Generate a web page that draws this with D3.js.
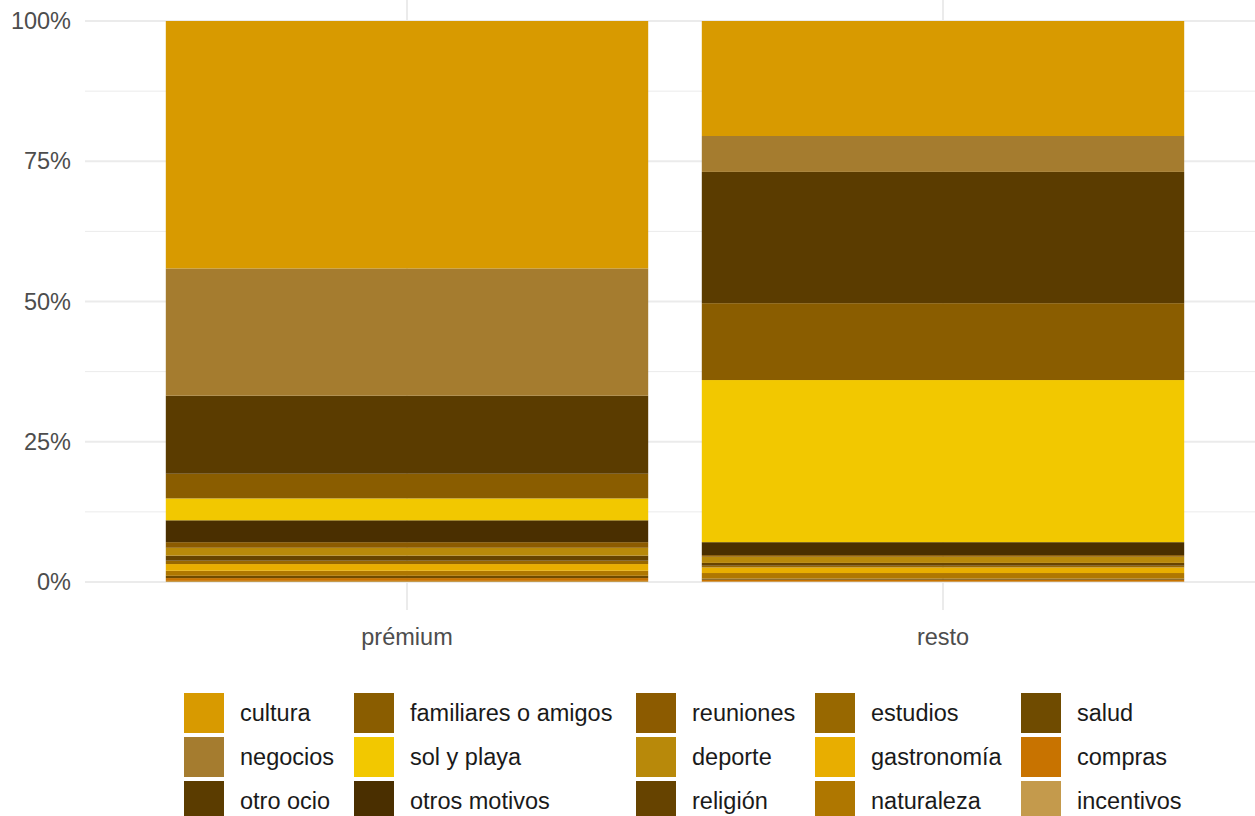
<!DOCTYPE html>
<html>
<head>
<meta charset="utf-8">
<script src="https://cdn.jsdelivr.net/npm/d3@7"></script>
<style>
  html, body { margin: 0; padding: 0; background: #ffffff; }
  svg { display: block; font-family: "Liberation Sans", Arial, sans-serif; }
</style>
</head>
<body>
<svg id="chart" width="1255" height="816"></svg>
<script>
// Travel motives, share of trips per tourist segment (stacked to 100%)
const segmentos = ["prémium", "resto"];
const motivos = ["cultura", "negocios", "otro ocio", "familiares o amigos", "sol y playa",
  "otros motivos", "reuniones", "deporte", "religión", "estudios", "gastronomía",
  "naturaleza", "salud", "compras", "incentivos"];
const valoresPremium = [44.1, 22.7, 13.9, 4.4, 3.9, 3.9, 1.0, 1.4, 0.9, 0.6, 1.2, 0.9, 0.4, 0.5, 0.2];
const valoresResto   = [20.5, 6.4, 23.4, 13.7, 28.9, 2.3, 0.3, 1.1, 0.5, 0.3, 1.0, 1.0, 0.2, 0.3, 0.1];
const colores = ["#D89A00", "#A57C2F", "#5B3C00", "#8A5D00", "#F2C800",
  "#4A2F00", "#8C5B00", "#B8890A", "#664300", "#986800", "#E8AE00",
  "#AF7700", "#6F4B00", "#C87300", "#C49A4C"];
const yTicks = [0, 0.25, 0.5, 0.75, 1];
const yMinor = [0.125, 0.375, 0.625, 0.875];

const svg = d3.select("#chart");

// rows for the stack: one object per segment
const filas = segmentos.map((s, i) => {
  const vals = i === 0 ? valoresPremium : valoresResto;
  const o = { segmento: s };
  motivos.forEach((m, j) => { o[m] = vals[j]; });
  return o;
});

// first motive sits on top, so stack in reverse order
const serie = d3.stack()
  .keys(motivos.slice().reverse())
  .offset(d3.stackOffsetExpand)(filas);

const color = d3.scaleOrdinal().domain(motivos).range(colores);

const x = d3.scaleBand().domain(segmentos).range([139, 1211])
  .paddingInner(0.1).paddingOuter(0.05);
const y = d3.scaleLinear().domain([0, 1]).range([582, 21]);

const panelLeft = 85, panelRight = 1265, panelTop = y(1.05), panelBottom = y(-0.05);

// grid
const grid = svg.append("g");
grid.selectAll("line.minor").data(yMinor).join("line")
  .attr("x1", panelLeft).attr("x2", panelRight)
  .attr("y1", d => y(d)).attr("y2", d => y(d))
  .attr("stroke", "#EBEBEB").attr("stroke-width", 1);
grid.selectAll("line.major").data(yTicks).join("line")
  .attr("x1", panelLeft).attr("x2", panelRight)
  .attr("y1", d => y(d)).attr("y2", d => y(d))
  .attr("stroke", "#EBEBEB").attr("stroke-width", 2);
grid.selectAll("line.vert").data(segmentos).join("line")
  .attr("x1", d => x(d) + x.bandwidth() / 2).attr("x2", d => x(d) + x.bandwidth() / 2)
  .attr("y1", panelTop).attr("y2", panelBottom)
  .attr("stroke", "#EBEBEB").attr("stroke-width", 2);

// bars
svg.append("g").selectAll("g").data(serie).join("g")
  .attr("fill", d => color(d.key))
  .selectAll("rect").data(d => d).join("rect")
  .attr("x", d => x(d.data.segmento))
  .attr("width", x.bandwidth())
  .attr("y", d => y(d[1]))
  .attr("height", d => y(d[0]) - y(d[1]));

// axes
const yAxis = svg.append("g").attr("transform", `translate(${panelLeft},0)`)
  .call(d3.axisLeft(y).tickValues(yTicks).tickFormat(d3.format(".0%")).tickSize(0).tickPadding(14));
yAxis.select(".domain").remove();
yAxis.selectAll("text").attr("fill", "#4D4D4D").style("font-size", "23.5px")
  .style("font-family", "'Liberation Sans', Arial, sans-serif");

const xAxis = svg.append("g").attr("transform", `translate(0,${panelBottom})`)
  .call(d3.axisBottom(x).tickSize(0).tickPadding(18));
xAxis.select(".domain").remove();
xAxis.selectAll("text").attr("fill", "#4D4D4D").style("font-size", "23.5px")
  .style("font-family", "'Liberation Sans', Arial, sans-serif");

// legend: 3 rows, filled by column
const colX = [184, 354, 636, 815, 1021];
const legend = svg.append("g");
const items = legend.selectAll("g").data(motivos).join("g")
  .attr("transform", (d, i) => `translate(${colX[Math.floor(i / 3)]},${693 + (i % 3) * 44})`);
items.append("rect").attr("width", 40).attr("height", 40)
  .attr("fill", d => color(d));
items.append("text").attr("x", 56).attr("y", 20).attr("dy", "0.35em")
  .attr("fill", "#1A1A1A").style("font-size", "23.5px")
  .text(d => d);
</script>
</body>
</html>
